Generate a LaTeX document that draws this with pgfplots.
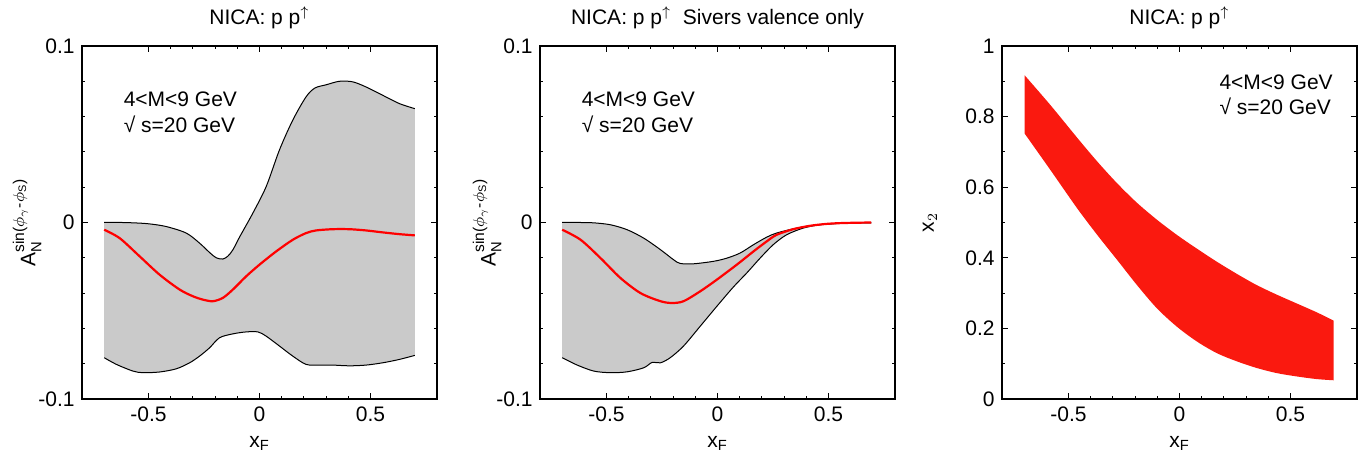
\documentclass[border=0pt]{standalone}
\usepackage{fontspec}
\setmainfont{Liberation Sans}
\usepackage{pgfplots}
\pgfplotsset{compat=1.18}
\usepgfplotslibrary{fillbetween}
\definecolor{bandgray}{RGB}{202,202,202}
\definecolor{bandred}{RGB}{250,25,15}
\newcommand{\supfont}{\fontsize{7.8}{9}\selectfont}

\pgfplotsset{
  every axis title/.style={at={(axis description cs:0.5,1.079)}, anchor=center},
  myaxis/.style={
    scale only axis, width=177.5pt, height=176.5pt,
    anchor=south west,
    xmin=-0.8, xmax=0.8,
    xtick={-0.5,0,0.5}, minor x tick num=4,
    tick align=inside,
    major tick length=2.8pt, minor tick length=1.6pt,
    tick style={black, line width=0.5pt},
    axis line style={line width=1pt},
    /pgf/number format/assume math mode=true,
    /pgf/number format/fixed,
    xlabel={x$_{\mathrm{F}}$},
    xlabel style={at={(axis description cs:0.5,-0.125)}, anchor=center},
  },
  asym/.style={
    ymin=-0.1, ymax=0.1,
    ytick={-0.1,0,0.1}, minor y tick num=4,
    ylabel={A$_{\mathrm{N}}^{\hbox{\supfont sin($\phi_{\gamma}$-$\phi_{\mathrm{S}}$)}}$},
  }
}

\begin{document}
\fontsize{10.5}{12.5}\selectfont
\begin{tikzpicture}

% ---------------- Panel 1 ----------------
\begin{axis}[myaxis, asym, at={(41pt,30pt)},
  title={NICA: p p$^{\uparrow}$},
  ylabel style={at={(axis description cs:-0.155,0.5)}, anchor=center}]
\addplot[black, line width=0.5pt, smooth, name path=u1] coordinates {
(-0.70,0.0000) (-0.62,0.0000) (-0.55,-0.0003) (-0.495,-0.0008) (-0.42,-0.0023)
(-0.33,-0.0060) (-0.27,-0.0117) (-0.225,-0.0170) (-0.195,-0.0200) (-0.165,-0.0207)
(-0.142,-0.0190) (-0.12,-0.0155) (-0.09,-0.0083) (-0.03,0.0053) (0.03,0.0203)
(0.09,0.0411) (0.15,0.0580) (0.21,0.0712) (0.25,0.0762) (0.30,0.0780)
(0.36,0.0800) (0.42,0.0797) (0.48,0.0768) (0.555,0.0721) (0.63,0.0674) (0.70,0.0645)};
\addplot[black, line width=0.5pt, smooth, name path=l1] coordinates {
(-0.70,-0.0766) (-0.645,-0.0804) (-0.57,-0.0842) (-0.525,-0.0851) (-0.45,-0.0847)
(-0.375,-0.0829) (-0.315,-0.0795) (-0.27,-0.0757) (-0.225,-0.0710) (-0.18,-0.0653)
(-0.12,-0.0631) (-0.06,-0.0620) (-0.007,-0.0620) (0.03,-0.0644) (0.09,-0.0700)
(0.15,-0.0757) (0.21,-0.0804) (0.27,-0.0808) (0.33,-0.0808) (0.405,-0.0812)
(0.48,-0.0808) (0.555,-0.0795) (0.63,-0.0776) (0.70,-0.0753)};
\addplot[bandgray] fill between[of=u1 and l1];
\addplot[red, line width=1.1pt, smooth] coordinates {
(-0.70,-0.0041) (-0.63,-0.0089) (-0.54,-0.0192) (-0.45,-0.0296) (-0.36,-0.0380)
(-0.30,-0.0418) (-0.255,-0.0437) (-0.21,-0.0446) (-0.165,-0.0427) (-0.12,-0.0380)
(-0.06,-0.0305) (0.00,-0.0239) (0.075,-0.0164) (0.15,-0.0098) (0.21,-0.0060)
(0.255,-0.0045) (0.33,-0.0038) (0.405,-0.0038) (0.48,-0.0045) (0.555,-0.0056)
(0.63,-0.0066) (0.70,-0.0073)};
\node[anchor=west] at (axis cs:-0.645,0.0697) {4<M<9 GeV};
\node[anchor=west] at (axis cs:-0.645,0.0556) {√ s=20 GeV};
\end{axis}

% ---------------- Panel 2 ----------------
\begin{axis}[myaxis, asym, at={(270pt,30pt)},
  title={NICA: p p$^{\uparrow}$\ \ Sivers valence only},
  ylabel style={at={(axis description cs:-0.149,0.5)}, anchor=center}]
\addplot[black, line width=0.5pt, smooth, name path=u2] coordinates {
(-0.70,0.0000) (-0.62,0.0000) (-0.557,-0.0002) (-0.482,-0.0013) (-0.407,-0.0041)
(-0.332,-0.0089) (-0.257,-0.0154) (-0.198,-0.0211) (-0.168,-0.0232) (-0.108,-0.0234)
(-0.018,-0.0220) (0.042,-0.0202) (0.102,-0.0173) (0.162,-0.0126) (0.222,-0.0083)
(0.266,-0.0060) (0.341,-0.0036) (0.416,-0.0019) (0.491,-0.0009) (0.566,-0.0004)
(0.693,0.0000)};
\addplot[black, line width=0.5pt, smooth, name path=l2] coordinates {
(-0.70,-0.0766) (-0.632,-0.0808) (-0.557,-0.0842) (-0.482,-0.0851) (-0.407,-0.0846)
(-0.332,-0.0823) (-0.295,-0.0793) (-0.257,-0.0795) (-0.213,-0.0766) (-0.153,-0.0700)
(-0.078,-0.0588) (-0.003,-0.0475) (0.072,-0.0365) (0.132,-0.0286) (0.192,-0.0202)
(0.251,-0.0126) (0.311,-0.0070) (0.386,-0.0032) (0.461,-0.0013) (0.566,-0.0004)
(0.693,-0.0002)};
\addplot[bandgray] fill between[of=u2 and l2];
\addplot[red, line width=1.1pt, smooth] coordinates {
(-0.70,-0.0041) (-0.617,-0.0098) (-0.527,-0.0202) (-0.437,-0.0315) (-0.347,-0.0400)
(-0.257,-0.0446) (-0.205,-0.0456) (-0.153,-0.0446) (-0.078,-0.0390) (-0.003,-0.0324)
(0.087,-0.0239) (0.162,-0.0164) (0.222,-0.0107) (0.266,-0.0070) (0.341,-0.0038)
(0.416,-0.0019) (0.491,-0.0008) (0.566,-0.0003) (0.693,0.0000)};
\node[anchor=west] at (axis cs:-0.645,0.0697) {4<M<9 GeV};
\node[anchor=west] at (axis cs:-0.645,0.0556) {√ s=20 GeV};
\end{axis}

% ---------------- Panel 3 ----------------
\begin{axis}[myaxis, at={(501pt,30pt)},
  title={NICA: p p$^{\uparrow}$},
  ymin=0, ymax=1, ytick={0,0.2,0.4,0.6,0.8,1}, minor y tick num=1,
  ylabel={x$_{2}$},
  ylabel style={at={(axis description cs:-0.203,0.5)}, anchor=center}]
\addplot[draw=none, smooth, name path=u3] coordinates {
(-0.698,0.917) (-0.581,0.832) (-0.461,0.740) (-0.371,0.673) (-0.281,0.611)
(-0.192,0.556) (-0.102,0.508) (-0.012,0.465) (0.078,0.426) (0.168,0.389)
(0.257,0.355) (0.347,0.323) (0.437,0.296) (0.527,0.271) (0.617,0.246) (0.695,0.222)};
\addplot[draw=none, smooth, name path=l3] coordinates {
(-0.698,0.752) (-0.581,0.648) (-0.461,0.540) (-0.371,0.465) (-0.281,0.394)
(-0.192,0.323) (-0.102,0.257) (-0.012,0.205) (0.078,0.163) (0.168,0.130)
(0.257,0.107) (0.347,0.088) (0.437,0.0735) (0.527,0.064) (0.617,0.0565) (0.695,0.053)};
\addplot[bandred] fill between[of=u3 and l3];
\node[anchor=west] at (axis cs:0.147,0.898) {4<M<9 GeV};
\node[anchor=west] at (axis cs:0.147,0.829) {√ s=20 GeV};
\end{axis}

\pgfresetboundingbox
\useasboundingbox (0,0) rectangle (683.5pt,229.5pt);
\end{tikzpicture}
\end{document}
